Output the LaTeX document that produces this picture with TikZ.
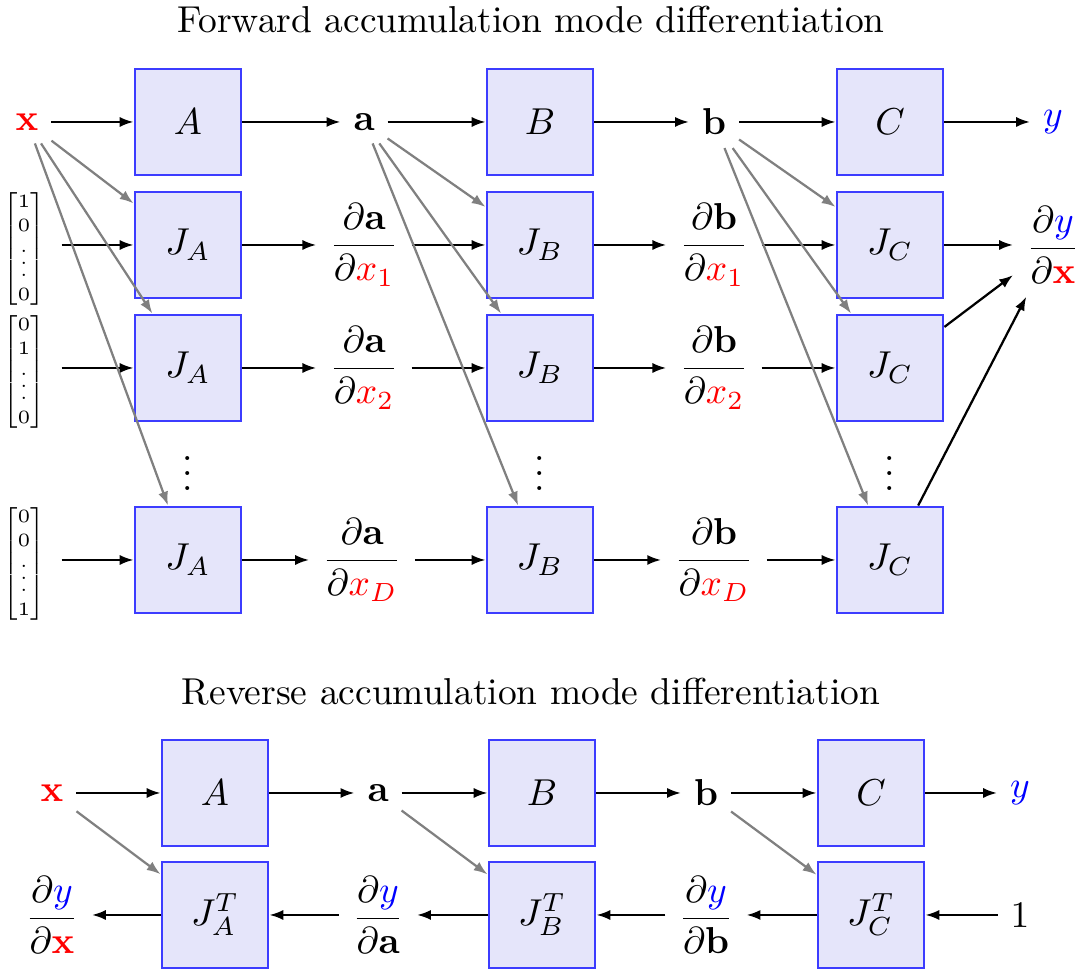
\documentclass[tikz,border=0pt]{standalone}
\usepackage{amsmath,amssymb}
\usepackage{xcolor}
\usepackage{tikz}
\usetikzlibrary{arrows.meta, positioning}
\definecolor{boxedge}{RGB}{60, 60, 255}
\definecolor{boxfill}{RGB}{229, 229, 250}
% compact vertical dots for the tiny basis vectors
\newcommand{\vecdots}{\vbox{\baselineskip3.1pt \lineskiplimit0pt \kern3pt\hbox{.}\hbox{.}\hbox{.}}}

\begin{document}
\begin{tikzpicture}[
  x=0.938cm, y=0.938cm,
  block/.style={draw=boxedge, fill=boxfill, semithick, minimum size=1cm, inner sep=0pt},
  lbl/.style={inner sep=3.3pt},
  vec/.style={inner sep=0pt, inner xsep=1.5mm, font=\fontsize{5}{6.6}\selectfont},
  flow/.style={-{Latex[length=1.3mm, width=0.95mm]}, semithick, black},
  jflow/.style={-{Latex[length=1.3mm, width=0.95mm]}, semithick, gray}
]
\useasboundingbox (0, 0) rectangle (10.81, 9.70);

% Forward mode
\node (fwdTitle) at (5.31, 9.50) {Forward accumulation mode differentiation};

\node[lbl] (x) at (0.27, 8.48) {$\color{red}\mathbf{x}$};
\node[block] (A) at (1.88, 8.48) {$A$};
\node[lbl] (a) at (3.64, 8.48) {$\mathbf{a}$};
\node[block] (B) at (5.40, 8.48) {$B$};
\node[lbl] (b) at (7.14, 8.48) {$\mathbf{b}$};
\node[block] (C) at (8.90, 8.48) {$C$};
\node[lbl] (y) at (10.53, 8.48) {$\color{blue}y$};

\draw[flow] (x) -- (A);
\draw[flow] (A) -- (a);
\draw[flow] (a) -- (B);
\draw[flow] (B) -- (b);
\draw[flow] (b) -- (C);
\draw[flow] (C) -- (y);

% Jacobian rows, one per input direction
\node[vec] (e1) at (0.24, 7.21) {$\begin{bmatrix}1\\0\\\vecdots\\0\end{bmatrix}$};
\node[block] (JA1) at (1.88, 7.25) {$J_A$};
\node[lbl] (da1) at (3.64, 7.25) {$\dfrac{\partial\mathbf{a}}{\partial{\color{red}x_1}}$};
\node[block] (JB1) at (5.40, 7.25) {$J_B$};
\node[lbl] (db1) at (7.14, 7.25) {$\dfrac{\partial\mathbf{b}}{\partial{\color{red}x_1}}$};
\node[block] (JC1) at (8.90, 7.25) {$J_C$};
\node[lbl] (dydx) at (10.53, 7.25) {$\dfrac{\partial{\color{blue}y}}{\partial{\color{red}\mathbf{x}}}$};

\node[vec] (e2) at (0.24, 5.98) {$\begin{bmatrix}0\\1\\\vecdots\\0\end{bmatrix}$};
\node[block] (JA2) at (1.88, 6.02) {$J_A$};
\node[lbl] (da2) at (3.64, 6.02) {$\dfrac{\partial\mathbf{a}}{\partial{\color{red}x_2}}$};
\node[block] (JB2) at (5.40, 6.02) {$J_B$};
\node[lbl] (db2) at (7.14, 6.02) {$\dfrac{\partial\mathbf{b}}{\partial{\color{red}x_2}}$};
\node[block] (JC2) at (8.90, 6.02) {$J_C$};

\node (dotsA) at (1.88, 5.08) {$\vdots$};
\node (dotsB) at (5.40, 5.08) {$\vdots$};
\node (dotsC) at (8.90, 5.08) {$\vdots$};

\node[vec] (eD) at (0.24, 4.06) {$\begin{bmatrix}0\\0\\\vecdots\\1\end{bmatrix}$};
\node[block] (JAD) at (1.88, 4.10) {$J_A$};
\node[lbl] (daD) at (3.62, 4.10) {$\dfrac{\partial\mathbf{a}}{\partial{\color{red}x_D}}$};
\node[block] (JBD) at (5.40, 4.10) {$J_B$};
\node[lbl] (dbD) at (7.14, 4.10) {$\dfrac{\partial\mathbf{b}}{\partial{\color{red}x_D}}$};
\node[block] (JCD) at (8.90, 4.10) {$J_C$};

\draw[flow] (e1.east |- JA1) -- (JA1);
\draw[flow] (JA1) -- (da1);
\draw[flow] (da1) -- (JB1);
\draw[flow] (JB1) -- (db1);
\draw[flow] (db1) -- (JC1);
\draw[flow] (JC1) -- (dydx);

\draw[flow] (e2.east |- JA2) -- (JA2);
\draw[flow] (JA2) -- (da2);
\draw[flow] (da2) -- (JB2);
\draw[flow] (JB2) -- (db2);
\draw[flow] (db2) -- (JC2);
\draw[flow] (JC2) -- (dydx);

\draw[flow] (eD.east |- JAD) -- (JAD);
\draw[flow] (JAD) -- (daD);
\draw[flow] (daD) -- (JBD);
\draw[flow] (JBD) -- (dbD);
\draw[flow] (dbD) -- (JCD);
\draw[flow] (JCD) -- (dydx);

% Linearisation points feed the Jacobians
\draw[jflow] (x) -- (JA1);
\draw[jflow] (x) -- (JA2);
\draw[jflow] (x) -- (JAD);
\draw[jflow] (a) -- (JB1);
\draw[jflow] (a) -- (JB2);
\draw[jflow] (a) -- (JBD);
\draw[jflow] (b) -- (JC1);
\draw[jflow] (b) -- (JC2);
\draw[jflow] (b) -- (JCD);

% Reverse mode
\node (revTitle) at (5.31, 2.78) {Reverse accumulation mode differentiation};

\node[lbl] (rx) at (0.52, 1.77) {$\color{red}\mathbf{x}$};
\node[block] (rA) at (2.15, 1.77) {$A$};
\node[lbl] (ra) at (3.78, 1.77) {$\mathbf{a}$};
\node[block] (rB) at (5.42, 1.77) {$B$};
\node[lbl] (rb) at (7.06, 1.77) {$\mathbf{b}$};
\node[block] (rC) at (8.71, 1.77) {$C$};
\node[lbl] (ry) at (10.20, 1.77) {$\color{blue}y$};

\node[lbl] (gx) at (0.52, 0.55) {$\dfrac{\partial{\color{blue}y}}{\partial{\color{red}\mathbf{x}}}$};
\node[block] (JAT) at (2.15, 0.55) {$J_A^T$};
\node[lbl] (ga) at (3.78, 0.55) {$\dfrac{\partial{\color{blue}y}}{\partial\mathbf{a}}$};
\node[block] (JBT) at (5.42, 0.55) {$J_B^T$};
\node[lbl] (gb) at (7.06, 0.55) {$\dfrac{\partial{\color{blue}y}}{\partial\mathbf{b}}$};
\node[block] (JCT) at (8.71, 0.55) {$J_C^T$};
\node[lbl] (seed) at (10.20, 0.55) {$1$};

\draw[flow] (rx) -- (rA);
\draw[flow] (rA) -- (ra);
\draw[flow] (ra) -- (rB);
\draw[flow] (rB) -- (rb);
\draw[flow] (rb) -- (rC);
\draw[flow] (rC) -- (ry);

\draw[flow] (seed) -- (JCT);
\draw[flow] (JCT) -- (gb);
\draw[flow] (gb) -- (JBT);
\draw[flow] (JBT) -- (ga);
\draw[flow] (ga) -- (JAT);
\draw[flow] (JAT) -- (gx);

\draw[jflow] (rx) -- (JAT);
\draw[jflow] (ra) -- (JBT);
\draw[jflow] (rb) -- (JCT);

\end{tikzpicture}
\end{document}
